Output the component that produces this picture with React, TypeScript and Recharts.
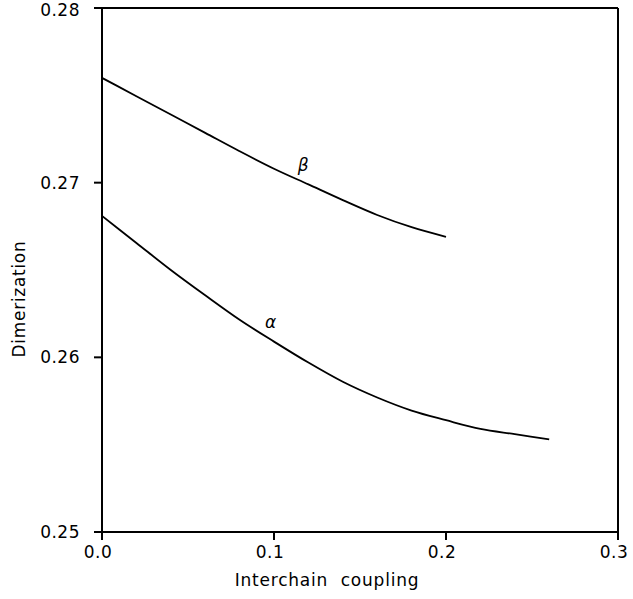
import { LineChart, Line, XAxis, YAxis, ReferenceLine, ReferenceDot, Label } from 'recharts';

const xTicks = [0, 0.1, 0.2, 0.3];
const yTicks = [0.25, 0.26, 0.27, 0.28];

const betaX = [0, 0.02, 0.04, 0.06, 0.08, 0.1, 0.12, 0.14, 0.16, 0.18, 0.2];
const betaY = [0.2760, 0.27495, 0.2739, 0.27285, 0.2718, 0.2708, 0.2699, 0.2690, 0.26815, 0.26745, 0.2669];

const alphaX = [0, 0.02, 0.04, 0.06, 0.08, 0.1, 0.12, 0.14, 0.16, 0.18, 0.2, 0.22, 0.24, 0.26];
const alphaY = [0.2681, 0.26655, 0.2650, 0.26355, 0.26215, 0.2609, 0.2597, 0.2586, 0.2577, 0.25695, 0.2564, 0.2559, 0.2556, 0.2553];

// curve labels, in data units
const labelNames = ['β', 'α'];
const labelX = [0.117, 0.098];
const labelY = [0.2710, 0.2620];

const beta = betaX.map((x, i) => ({ x, y: betaY[i] }));
const alpha = alphaX.map((x, i) => ({ x, y: alphaY[i] }));

const font = '"DejaVu Sans", sans-serif';
const tickStyle = { fill: '#000', fontSize: 17, fontFamily: font, letterSpacing: 0.5 };

export default function App() {
  return (
    <div style={{ position: 'absolute', left: 0, top: 0, background: '#fff' }}>
      <LineChart width={633} height={599} margin={{ top: 8, right: 15, bottom: 0, left: 0 }}>
        <XAxis
          type="number"
          dataKey="x"
          domain={[0, 0.3]}
          ticks={xTicks}
          tickFormatter={(v: number) => v.toFixed(1)}
          height={67}
          tickSize={8}
          tickMargin={6}
          tick={{ ...tickStyle, dx: -4 }}
          axisLine={{ stroke: '#000', strokeWidth: 2 }}
          tickLine={{ stroke: '#000', strokeWidth: 2 }}
          allowDataOverflow
          label={{
            value: 'Interchain  coupling',
            content: ({ viewBox }: any) => (
              <text
                x={viewBox.x + viewBox.width / 2 - 33}
                y={586}
                textAnchor="middle"
                fontSize={17}
                fontFamily={font}
                letterSpacing={0.8}
                fill="#000"
              >
                Interchain{'\u00a0\u00a0'}coupling
              </text>
            ),
          }}
        />
        <YAxis
          type="number"
          domain={[0.25, 0.28]}
          ticks={yTicks}
          tickFormatter={(v: number) => v.toFixed(2)}
          width={102}
          tickSize={8}
          tickMargin={14}
          tick={tickStyle}
          axisLine={{ stroke: '#000', strokeWidth: 2 }}
          tickLine={{ stroke: '#000', strokeWidth: 2 }}
          allowDataOverflow
          label={{
            value: 'Dimerization',
            content: ({ viewBox }: any) => {
              const cx = 19;
              const cy = viewBox.y + viewBox.height / 2 + 29;
              return (
                <text
                  x={cx}
                  y={cy}
                  transform={`rotate(-90 ${cx} ${cy})`}
                  textAnchor="middle"
                  dominantBaseline="central"
                  fontSize={17}
                  fontFamily={font}
                  letterSpacing={0.7}
                  fill="#000"
                >
                  Dimerization
                </text>
              );
            },
          }}
        />
        <ReferenceLine y={0.28} stroke="#000" strokeWidth={2} />
        <ReferenceLine x={0.3} stroke="#000" strokeWidth={2} />
        <Line data={beta} dataKey="y" type="monotone" stroke="#000" strokeWidth={1.8} dot={false} isAnimationActive={false} />
        <Line data={alpha} dataKey="y" type="monotone" stroke="#000" strokeWidth={1.8} dot={false} isAnimationActive={false} />
        {labelNames.map((n, i) => (
          <ReferenceDot key={n} x={labelX[i]} y={labelY[i]} r={0} stroke="none" fill="none">
            <Label value={n} position="center" fill="#000" fontSize={17} fontFamily={font} fontStyle="italic" />
          </ReferenceDot>
        ))}
      </LineChart>
    </div>
  );
}
